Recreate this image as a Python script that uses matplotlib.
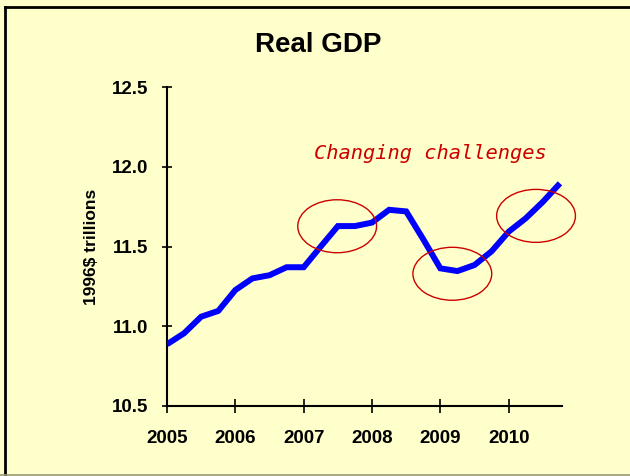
import numpy as np
import matplotlib
matplotlib.use("Agg")
from matplotlib import pyplot as plt
from matplotlib.patches import Ellipse
from matplotlib.lines import Line2D

# quarterly real GDP, 1996$ trillions, 2005Q1 .. 2010Q4
quarters = np.arange(2005, 2011, 0.25)
gdp = [10.887, 10.956, 11.06, 11.096, 11.227, 11.30, 11.32, 11.37,
       11.37, 11.50, 11.628, 11.628, 11.65, 11.73, 11.72, 11.545,
       11.363, 11.346, 11.384, 11.47, 11.593, 11.677, 11.78, 11.896]
years = [2005, 2006, 2007, 2008, 2009, 2010]
yticks = [10.5, 11.0, 11.5, 12.0, 12.5]
# circled regions: (x centre, y centre)
circles = [(2007.49, 11.627), (2009.175, 11.329), (2010.40, 11.692)]

bg = '#FFFFCC'
plt.rcParams['font.family'] = ['Liberation Sans', 'DejaVu Sans']

fig = plt.figure(figsize=(6.3, 4.76), dpi=100, facecolor=bg)
ax = fig.add_axes([167/630, 1 - 406/476, (562 - 167)/630, (406 - 87)/476])
ax.set_facecolor(bg)

ax.plot(quarters, gdp, color='#0000FF', linewidth=4.3, solid_capstyle='butt',
        solid_joinstyle='miter', zorder=3)

for cx, cy in circles:
    ax.add_patch(Ellipse((cx, cy), 1.153, 0.332, fill=False, clip_on=False,
                         edgecolor='#CC0000', linewidth=1.0, zorder=4))

ax.text(2008.85, 12.086, 'Changing challenges', color='#CC0000',
        family='DejaVu Sans Mono', style='italic', fontsize=14.7,
        ha='center', va='center')

ax.set_xlim(2005, 2010.78)
ax.set_ylim(10.5, 12.5)
ax.set_xticks(years)
ax.set_xticklabels([str(y) for y in years], fontsize=13.5, fontweight='bold')
ax.set_yticks(yticks)
ax.set_yticklabels([f'{v:.1f}' for v in yticks], fontsize=13.5, fontweight='bold')
ax.tick_params(axis='x', direction='inout', length=10, width=1.2, pad=12)
ax.tick_params(axis='y', direction='inout', length=7, width=1.2, pad=10)
for s in ['top', 'right']:
    ax.spines[s].set_visible(False)
for s in ['left', 'bottom']:
    ax.spines[s].set_linewidth(1.5)

ax.set_ylabel('1996$ trillions', fontsize=12.5, fontweight='bold', labelpad=9)
fig.text(0.505, 1 - 45/476, 'Real GDP', fontsize=20, fontweight='bold',
         ha='center', va='center')

# slide frame
fig.add_artist(Line2D([5/630, 1], [1 - 7/476] * 2, color='black', lw=2, transform=fig.transFigure))
fig.add_artist(Line2D([5/630] * 2, [0, 1 - 7/476], color='black', lw=2, transform=fig.transFigure))
fig.add_artist(Line2D([0, 1], [1/476] * 2, color='#999977', lw=1.2, transform=fig.transFigure))

plt.savefig('out.png', dpi=100, facecolor=bg)
